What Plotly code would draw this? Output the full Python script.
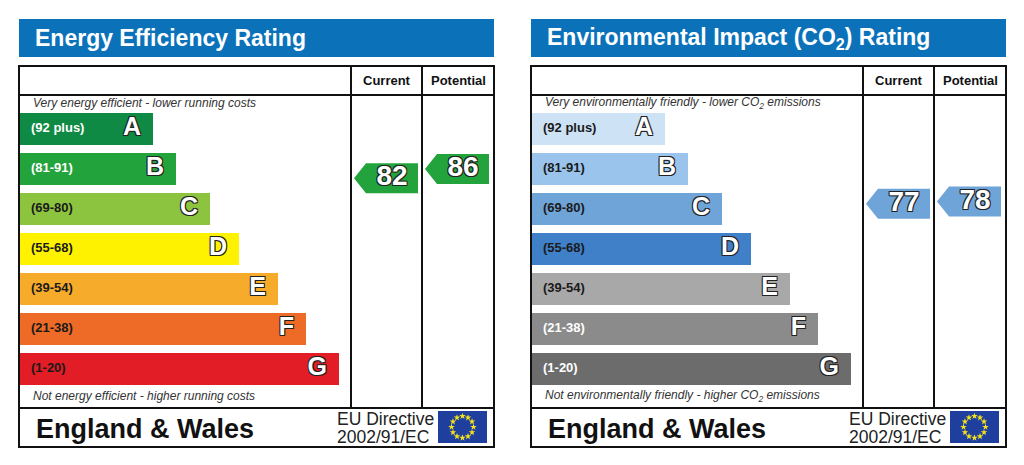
import math
import plotly.graph_objects as go

# the page body keeps its 8px margin, so the figure is a bit smaller than the window
PAGE_OFF = 8
W, H = 1008, 449

# rating bands, same for both charts
BANDS = ['A', 'B', 'C', 'D', 'E', 'F', 'G']
BAND_RANGES = ['(92 plus)', '(81-91)', '(69-80)', '(55-68)', '(39-54)', '(21-38)', '(1-20)']
BAND_LO = [92, 81, 69, 55, 39, 21, 1]
BAND_HI = [100, 91, 80, 68, 54, 38, 20]
BAND_LENGTH = [134, 157, 191, 220, 259, 287, 320]

ENERGY_COLORS = ['#0e8a44', '#23a33c', '#8dc43f', '#fff200', '#f7ab2b', '#ed6a27', '#e31d25']
ENERGY_LABEL_COLORS = ['white', 'white', '#1a1a1a', '#1a1a1a', '#1a1a1a', '#1a1a1a', '#1a1a1a']
CO2_COLORS = ['#cde2f5', '#9ac4ec', '#6fa4d9', '#3f80c9', '#a8a8a8', '#8b8b8b', '#6c6c6c']
CO2_LABEL_COLORS = ['#1a1a1a', '#1a1a1a', '#1a1a1a', '#1a1a1a', '#1a1a1a', 'white', 'white']

ENERGY_CURRENT = 82
ENERGY_POTENTIAL = 86
CO2_CURRENT = 77
CO2_POTENTIAL = 78

BLUE = '#0b72ba'
FONT = 'Liberation Sans, Arial, sans-serif'
OUTLINE = '-1px -1px 0 #222, 1px -1px 0 #222, -1px 1px 0 #222, 1px 1px 0 #222'

# page geometry (window pixels)
PANEL_W = 475
BOX_TOP, HEAD_ROW, FOOT_LINE, BOX_BOTTOM = 66, 95, 408, 447
BAND_Y0, BAND_STEP = 129, 40
COLS = [332, 403]  # left edge of Current / Potential columns, panel units


def px(x):
    return (x - PAGE_OFF) / W


def py(y):
    return 1 - (y - PAGE_OFF) / H


def band_of(score):
    for i, (lo, hi) in enumerate(zip(BAND_LO, BAND_HI)):
        if lo <= score <= hi:
            return i
    return len(BANDS) - 1


def arrow_y(score):
    i = band_of(score)
    mid = (BAND_LO[i] + BAND_HI[i]) / 2
    return i + (mid - score) / (BAND_HI[i] - BAND_LO[i]) * 0.58


def add_panel(fig, n, left, title, top_text, bottom_text, colors, label_colors, current, potential):
    xa = 'x' if n == 1 else f'x{n}'
    ya = 'y' if n == 1 else f'y{n}'
    idx = list(range(len(BANDS)))

    fig.add_trace(go.Bar(
        x=BAND_LENGTH, y=idx, orientation='h', width=0.8,
        marker=dict(color=colors, line_width=0),
        xaxis=xa, yaxis=ya, hoverinfo='skip', showlegend=False,
    ))

    fig.add_trace(go.Scatter(
        x=[12] * len(BANDS), y=idx, mode='text', text=BAND_RANGES,
        textposition='middle right',
        textfont=dict(family=FONT, size=13, color=label_colors, weight='bold'),
        xaxis=xa, yaxis=ya, hoverinfo='skip', showlegend=False, cliponaxis=False,
    ))

    fig.add_trace(go.Scatter(
        x=[v - 12 for v in BAND_LENGTH], y=idx, mode='text', text=BANDS,
        textposition='middle left',
        textfont=dict(family=FONT, size=25, color='white', weight='bold', shadow=OUTLINE),
        xaxis=xa, yaxis=ya, hoverinfo='skip', showlegend=False, cliponaxis=False,
    ))

    for col, score in zip(COLS, [current, potential]):
        yc = arrow_y(score)
        x0, x1, tip, hh = col + 3, col + 67, 12, 0.375
        fig.add_trace(go.Scatter(
            x=[x0, x0 + tip, x1, x1, x0 + tip, x0],
            y=[yc, yc - hh, yc - hh, yc + hh, yc + hh, yc],
            mode='lines', fill='toself', fillcolor=colors[band_of(score)],
            line=dict(width=0), xaxis=xa, yaxis=ya,
            hoverinfo='skip', showlegend=False,
        ))
        fig.add_trace(go.Scatter(
            x=[(x0 + tip + x1) / 2], y=[yc], mode='text', text=[str(score)],
            textposition='middle center',
            textfont=dict(family=FONT, size=28, color='white', weight='bold', shadow=OUTLINE),
            xaxis=xa, yaxis=ya, hoverinfo='skip', showlegend=False, cliponaxis=False,
        ))

    # EU flag stars
    fx, fy = 443.5, (427 - BAND_Y0) / BAND_STEP
    fig.add_trace(go.Scatter(
        x=[fx + 11 * math.cos(k * math.pi / 6) for k in range(12)],
        y=[fy + 0.27 * math.sin(k * math.pi / 6) for k in range(12)],
        mode='markers', marker=dict(symbol='star', size=5, color='#f5e31a', line_width=0),
        xaxis=xa, yaxis=ya, hoverinfo='skip', showlegend=False, cliponaxis=False,
    ))

    axis = dict(visible=False, showgrid=False, zeroline=False, fixedrange=True)
    fig.update_layout({
        ('xaxis' if n == 1 else f'xaxis{n}'): dict(
            axis, domain=[px(left), px(left + PANEL_W)], range=[0, PANEL_W], anchor=ya),
        ('yaxis' if n == 1 else f'yaxis{n}'): dict(
            axis, domain=[py(BOX_BOTTOM), py(BOX_TOP)], anchor=xa,
            range=[(BOX_BOTTOM - BAND_Y0) / BAND_STEP, (BOX_TOP - BAND_Y0) / BAND_STEP]),
    })

    right = left + PANEL_W
    c1, c2 = left + COLS[0], left + COLS[1]
    line = dict(color='#111', width=2)
    shapes = [
        dict(type='rect', x0=px(left), x1=px(right), y0=py(57), y1=py(19),
             fillcolor=BLUE, line_width=0),
        dict(type='line', x0=px(left), x1=px(right), y0=py(HEAD_ROW), y1=py(HEAD_ROW), line=line),
        dict(type='line', x0=px(left), x1=px(right), y0=py(FOOT_LINE), y1=py(FOOT_LINE), line=line),
        dict(type='line', x0=px(c1), x1=px(c1), y0=py(BOX_TOP), y1=py(FOOT_LINE), line=line),
        dict(type='line', x0=px(c2), x1=px(c2), y0=py(BOX_TOP), y1=py(FOOT_LINE), line=line),
        dict(type='rect', x0=px(left), x1=px(right), y0=py(BOX_BOTTOM), y1=py(BOX_TOP), line=line),
        dict(type='rect', x0=px(left + 419), x1=px(left + 468), y0=py(443), y1=py(411),
             fillcolor='#1f3f9e', line_width=0, layer='below'),
    ]
    for s in shapes:
        fig.add_shape(s, xref='paper', yref='paper')

    notes = [
        (left + 14, 38, title, 23, 'white', 'bold', 'normal', 'left'),
        ((c1 + c2) / 2, 80, 'Current', 13, '#111', 'bold', 'normal', 'center'),
        ((c2 + right) / 2, 80, 'Potential', 13, '#111', 'bold', 'normal', 'center'),
        (left + 12, 103, top_text, 12, '#333', 'normal', 'italic', 'left'),
        (left + 12, 396, bottom_text, 12, '#333', 'normal', 'italic', 'left'),
        (left + 15, 429, 'England &amp; Wales', 27, '#111', 'bold', 'normal', 'left'),
        (left + 316, 419, 'EU Directive', 17.5, '#222', 'normal', 'normal', 'left'),
        (left + 316, 437, '2002/91/EC', 17.5, '#222', 'normal', 'normal', 'left'),
    ]
    for x, y, text, size, color, weight, style, anchor in notes:
        fig.add_annotation(
            x=px(x), y=py(y), xref='paper', yref='paper', text=text, showarrow=False,
            xanchor=anchor, yanchor='middle',
            font=dict(family=FONT, size=size, color=color, weight=weight, style=style),
        )


fig = go.Figure()

add_panel(
    fig, 1, 19, 'Energy Efficiency Rating',
    'Very energy efficient - lower running costs',
    'Not energy efficient - higher running costs',
    ENERGY_COLORS, ENERGY_LABEL_COLORS, ENERGY_CURRENT, ENERGY_POTENTIAL,
)
add_panel(
    fig, 2, 531, 'Environmental Impact (CO<sub>2</sub>) Rating',
    'Very environmentally friendly - lower CO<sub>2</sub> emissions',
    'Not environmentally friendly - higher CO<sub>2</sub> emissions',
    CO2_COLORS, CO2_LABEL_COLORS, CO2_CURRENT, CO2_POTENTIAL,
)

fig.update_layout(
    width=W, height=H,
    margin=dict(l=0, r=0, t=0, b=0),
    paper_bgcolor='white', plot_bgcolor='rgba(0,0,0,0)',
    bargap=0, showlegend=False,
)

fig.write_html('out.html')
